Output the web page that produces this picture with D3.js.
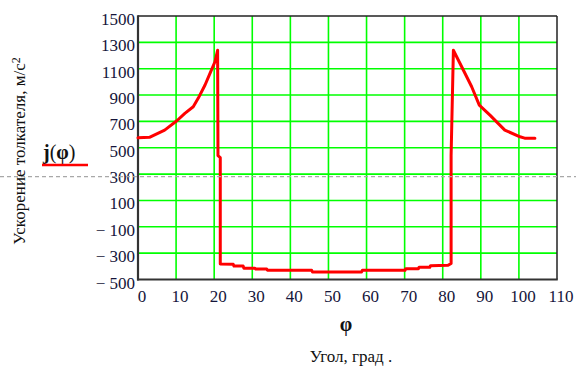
<!DOCTYPE html>
<html>
<head>
<meta charset="utf-8">
<script src="https://cdn.jsdelivr.net/npm/d3@7"></script>
<style>
  html, body { margin: 0; padding: 0; background: #fff; }
  svg { display: block; }
  text { font-family: "Liberation Serif", "Times New Roman", serif; }
</style>
</head>
<body>
<svg id="chart" width="576" height="367"></svg>
<script>
// ---- data ----
const phi = [0, 3, 7, 10.2, 12.3, 14.5, 15.8, 17.6, 18.9, 20.2, 20.9, 21.0, 21.6, 21.6,
  25, 25.2, 27.6, 27.8, 30.7, 30.9, 33.8, 34.0, 45.6, 45.8, 58.7, 58.9, 70.1, 70.3,
  73.6, 73.8, 76.6, 76.8, 81.4, 82.2, 82.2, 82.8, 85.4, 87.6, 89.6, 92.4, 96.3, 100.3, 101.5, 104.2];
const accel = [575, 579, 634, 705, 761, 811, 875, 976, 1065, 1153, 1240, 440, 425, -382,
  -384, -398, -398, -414, -414, -421, -421, -430, -430, -443, -443, -430, -430, -418,
  -418, -407, -407, -395, -392, -378, 440, 1240, 1090, 963, 824, 748, 634, 583, 573, 573];
const xTicks = [0, 10, 20, 30, 40, 50, 60, 70, 80, 90, 100, 110];
const yTicks = [-500, -300, -100, 100, 300, 500, 700, 900, 1100, 1300, 1500];
const markerValue = 300;
const yTitle = "Ускорение толкателя, м/с";
const xTitle = "Угол, град .";

// ---- layout ----
const svg = d3.select("#chart");
const L = 138, R = 557, T = 16, B = 279.5;
const x = d3.scaleLinear().domain([0, 110]).range([L, R]);
const y = d3.scaleLinear().domain([-500, 1500]).range([B, T]);

// grid
const grid = svg.append("g").attr("stroke", "#00ff00").attr("stroke-width", 1.6);
grid.selectAll("line.vx").data(xTicks.slice(1, -1)).join("line")
  .attr("x1", d => x(d)).attr("x2", d => x(d)).attr("y1", T).attr("y2", B);
grid.selectAll("line.hy").data(yTicks.slice(1, -1)).join("line")
  .attr("y1", d => y(d)).attr("y2", d => y(d)).attr("x1", L).attr("x2", R);

// axes via d3
const xAxis = svg.append("g").attr("transform", `translate(0,${B})`)
  .call(d3.axisBottom(x).tickValues(xTicks).tickSize(0).tickPadding(0).tickFormat(d3.format("d")));
xAxis.select(".domain").remove();
xAxis.selectAll("text")
  .attr("dy", null).attr("y", 22).attr("dx", 3.5)
  .style("font-size", "17px").style("font-family", "Liberation Serif, serif")
  .attr("fill", "#15153a");

const yAxis = svg.append("g").attr("transform", `translate(${L},0)`)
  .call(d3.axisLeft(y).tickValues(yTicks).tickSize(0).tickPadding(0)
    .tickFormat(d => d < 0 ? "\u2212 " + Math.abs(d) : String(d)));
yAxis.select(".domain").remove();
yAxis.selectAll("text")
  .attr("x", -3).attr("dy", "0.5em")
  .style("font-size", "17px").style("font-family", "Liberation Serif, serif")
  .attr("fill", "#15153a");

// frame
svg.append("line").attr("x1", L).attr("x2", R).attr("y1", T).attr("y2", T)
  .attr("stroke", "#222").attr("stroke-width", 1.5);
svg.append("line").attr("x1", R).attr("x2", R).attr("y1", T).attr("y2", B)
  .attr("stroke", "#222").attr("stroke-width", 1.5);
svg.append("line").attr("x1", L).attr("x2", L).attr("y1", T - 0.75).attr("y2", B + 1)
  .attr("stroke", "#333").attr("stroke-width", 2.2);
svg.append("line").attr("x1", L - 1).attr("x2", R + 0.75).attr("y1", B).attr("y2", B)
  .attr("stroke", "#333").attr("stroke-width", 2.2);

// curve
const pts = phi.map((p, i) => [p, accel[i]]);
svg.append("path").datum(pts)
  .attr("d", d3.line().x(d => x(d[0])).y(d => y(d[1])))
  .attr("fill", "none").attr("stroke", "#ff0000").attr("stroke-width", 3)
  .attr("stroke-linejoin", "round").attr("stroke-linecap", "round");

// marker dashed line
const my = y(markerValue) + 2.5;
svg.append("line").attr("x1", 0).attr("x2", 576).attr("y1", my).attr("y2", my)
  .attr("stroke", "#a8a8a8").attr("stroke-width", 1.3).attr("stroke-dasharray", "4,3");

// legend
const leg = svg.append("text").attr("x", 43).attr("y", 159).style("font-size", "20px").attr("fill", "#111");
leg.append("tspan").attr("font-weight", "bold").text("j");
leg.append("tspan").text("(");
leg.append("tspan").attr("font-weight", "bold").text("φ");
leg.append("tspan").text(")");
svg.append("line").attr("x1", 42).attr("x2", 88).attr("y1", 165).attr("y2", 165)
  .attr("stroke", "#ff0000").attr("stroke-width", 2.5);

// y title
const yt = svg.append("text")
  .attr("transform", "translate(25,151) rotate(-90)")
  .attr("text-anchor", "middle").style("font-size", "17px").attr("fill", "#111");
yt.append("tspan").text(yTitle);
yt.append("tspan").attr("dy", "-0.45em").style("font-size", "12px").text("2");

// x titles
svg.append("text").attr("x", 346).attr("y", 331).attr("text-anchor", "middle")
  .attr("font-weight", "bold").style("font-size", "20px").attr("fill", "#111").text("φ");
svg.append("text").attr("x", 351).attr("y", 362).attr("text-anchor", "middle")
  .style("font-size", "17px").attr("fill", "#111").text(xTitle);
</script>
</body>
</html>
